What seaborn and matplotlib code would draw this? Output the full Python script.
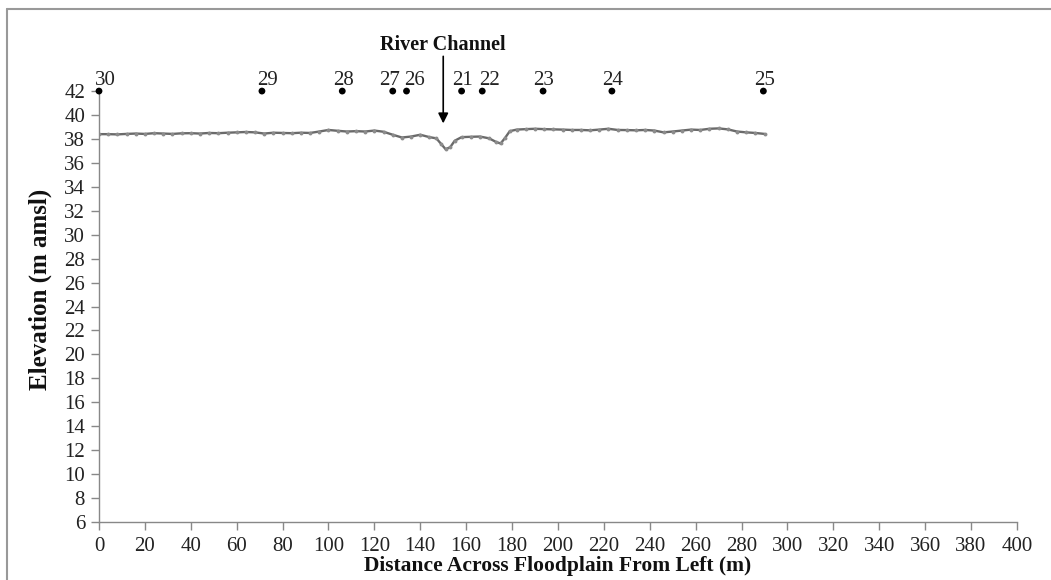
import matplotlib
matplotlib.use("Agg")
import matplotlib.pyplot as plt
import seaborn as sns
import pandas as pd
from matplotlib.lines import Line2D

# Profile data (distance in m, elevation in m amsl)
distance = [0, 4, 8, 12, 16, 20, 24, 28, 32, 36, 40, 44, 48, 52, 56, 60, 64, 68, 72,
            76, 80, 84, 88, 92, 96, 100, 104, 108, 112, 116, 120, 124, 128, 132, 136,
            140, 144, 147, 149, 151, 153, 155, 158, 162, 166, 170, 173, 175, 177, 179,
            182, 186, 190, 194, 198, 202, 206, 210, 214, 218, 222, 226, 230, 234, 238,
            242, 246, 250, 254, 258, 262, 266, 270, 274, 278, 282, 286, 290]
elevation = [38.40, 38.40, 38.38, 38.42, 38.45, 38.42, 38.48, 38.45, 38.42, 38.47, 38.48,
             38.45, 38.50, 38.48, 38.52, 38.55, 38.58, 38.55, 38.45, 38.52, 38.50,
             38.48, 38.52, 38.50, 38.62, 38.75, 38.68, 38.62, 38.65, 38.62, 38.70,
             38.60, 38.35, 38.12, 38.20, 38.35, 38.15, 38.05, 37.60, 37.15, 37.30,
             37.85, 38.15, 38.18, 38.20, 38.05, 37.75, 37.62, 38.10, 38.65, 38.78,
             38.82, 38.85, 38.82, 38.80, 38.78, 38.75, 38.75, 38.72, 38.78, 38.85,
             38.75, 38.74, 38.72, 38.75, 38.70, 38.55, 38.62, 38.70, 38.78, 38.75,
             38.85, 38.88, 38.80, 38.62, 38.55, 38.50, 38.42]

# Sampling stations
station_labels = ["30", "29", "28", "27", "26", "21", "22", "23", "24", "25"]
station_x = [0, 71, 106, 128, 134, 158, 167, 193.5, 223.5, 289.5]
station_y = [42] * len(station_labels)

x_ticks = list(range(0, 401, 20))
y_ticks = list(range(6, 43, 2))

sns.set_theme(style="white")
plt.rcParams["font.family"] = ["Liberation Serif", "DejaVu Serif"]

fig = plt.figure(figsize=(10.51, 5.80), dpi=100)
ax = fig.add_axes([0.0942, 0.1, 0.8734, 0.743])

df = pd.DataFrame({"d": distance, "e": elevation})
sns.lineplot(data=df, x="d", y="e", ax=ax, color="#6a6a6a", linewidth=1.7,
             marker="o", markersize=2.8, markeredgewidth=0, markerfacecolor="#8c8c8c")

st = pd.DataFrame({"x": station_x, "y": station_y})
sns.scatterplot(data=st, x="x", y="y", ax=ax, color="black", s=24, edgecolor="none",
                zorder=5, clip_on=False)

# label pixel nudges (horizontal) to mimic the reference placement
label_nudge = {"30": 6, "29": 6, "28": 1, "27": -3, "26": 8, "21": 1,
               "22": 7, "23": 1, "24": 1, "25": 1}
for lab, sx, sy in zip(station_labels, station_x, station_y):
    ax.annotate(lab, (sx, sy), xytext=(label_nudge[lab] * 0.72, 4.5),
                textcoords="offset points", ha="center", va="baseline",
                fontsize=15, color="#222222", annotation_clip=False)

ax.annotate("", xy=(150, 39.3), xytext=(150, 44.9),
            arrowprops=dict(arrowstyle="-|>", color="black", lw=1.2,
                            mutation_scale=15, shrinkA=0, shrinkB=0),
            annotation_clip=False)
ax.text(150, 45.0, "River Channel", ha="center", va="bottom", fontsize=14.5,
        fontweight="bold", color="#111111", clip_on=False)

ax.set_xlim(0, 400)
ax.set_ylim(6, 42)
ax.set_xticks(x_ticks)
ax.set_yticks(y_ticks)
ax.tick_params(axis="both", labelsize=15, colors="#222222", length=6, width=1,
               direction="out", bottom=True, left=True)
ax.tick_params(axis="x", pad=5)
ax.tick_params(axis="y", pad=4)
ax.tick_params(axis="both", color="#888888")
for side in ["top", "right"]:
    ax.spines[side].set_visible(False)
for side in ["left", "bottom"]:
    ax.spines[side].set_color("#888888")
    ax.spines[side].set_linewidth(1.0)

ax.set_xlabel("Distance Across Floodplain From Left (m)", fontsize=15.5,
              fontweight="bold", color="#111111", labelpad=0)
ax.set_ylabel("Elevation (m amsl)", fontsize=18, fontweight="bold",
              color="#111111")
ax.yaxis.set_label_coords(-0.051, 0.54)
ax.grid(False)

# outer frame lines (top and left)
fig.add_artist(Line2D([7 / 1051, 1], [1 - 9 / 580, 1 - 9 / 580],
                      transform=fig.transFigure, color="#999999", lw=1.5))
fig.add_artist(Line2D([7 / 1051, 7 / 1051], [0, 1 - 9 / 580],
                      transform=fig.transFigure, color="#999999", lw=1.5))

fig.savefig("out.png", dpi=100)
